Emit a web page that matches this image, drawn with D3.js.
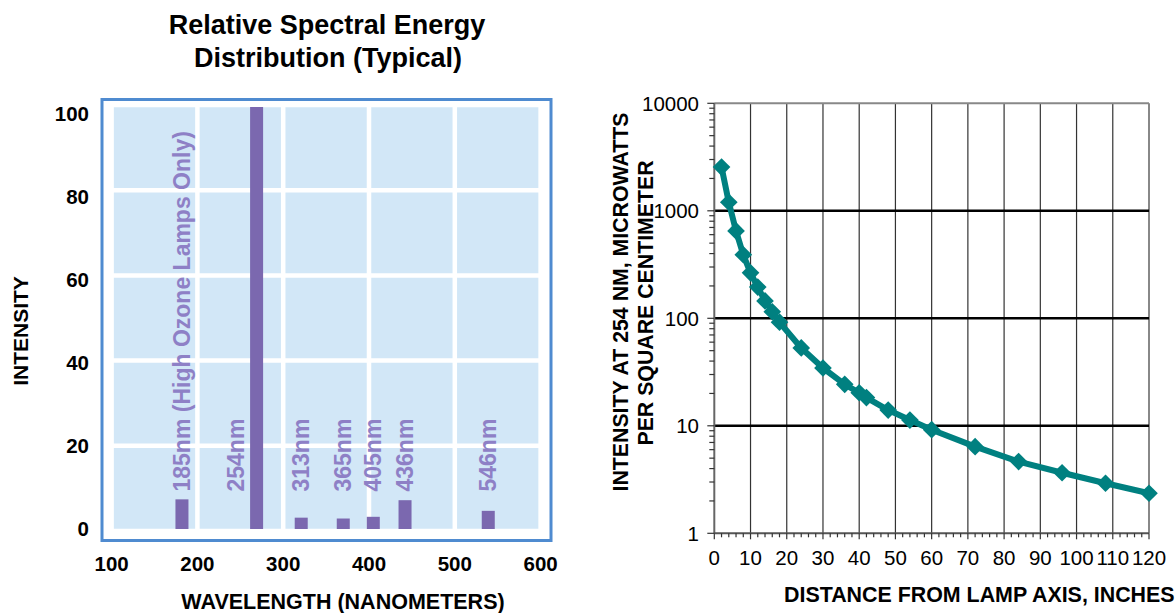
<!DOCTYPE html>
<html>
<head>
<meta charset="utf-8">
<script src="https://cdn.jsdelivr.net/npm/d3@7"></script>
<style>
  body { margin: 0; background: #fff; }
  text { font-family: Arial, "Liberation Sans", sans-serif; }
</style>
</head>
<body>
<svg id="chart" width="1176" height="613"></svg>
<script>
// Left: relative spectral energy (mercury lines)
const lineLabels = ['185nm (High Ozone Lamps Only)', '254nm', '313nm', '365nm', '405nm', '436nm', '546nm'];
const plotNm = [182, 269, 321, 370, 405, 442, 539];     // where each bar sits on the axis
const labelNm = [182, 245, 321, 370, 405, 442, 539];    // where each label sits
const relIntensity = [7.9, 100, 3.6, 3.4, 3.8, 7.7, 5.2];
const wlTicks = [100, 200, 300, 400, 500, 600];
const relTicks = [0, 20, 40, 60, 80, 100];

// Right: intensity vs distance
const distIn = [2, 4, 6, 8, 10, 12, 14, 16, 18, 24, 30, 36, 40, 42, 48, 54, 60, 72, 84, 96, 108, 120];
const uwPerCm2 = [2550, 1200, 650, 390, 265, 195, 145, 115, 92, 53, 34.5, 24.3, 20.3, 18.3, 14, 11.3, 9.2, 6.4, 4.65, 3.66, 2.92, 2.36];
const distTicks = [0, 10, 20, 30, 40, 50, 60, 70, 80, 90, 100, 110, 120];
const decadeTicks = [1, 10, 100, 1000, 10000];

const svg = d3.select('#chart');

// ---------- left chart ----------
const x1 = d3.scaleLinear().domain([100, 600]).range([111.6, 540.6]);
const y1 = d3.scaleLinear().domain([0, 100]).range([531, 105]);
const y1Label = d3.scaleLinear().domain([0, 100]).range([529, 114]);

const left = svg.append('g');

left.append('text').attr('x', 327).attr('y', 34).attr('text-anchor', 'middle')
  .attr('font-size', 27).attr('font-weight', 'bold').text('Relative Spectral Energy');
left.append('text').attr('x', 328).attr('y', 66.5).attr('text-anchor', 'middle')
  .attr('font-size', 27).attr('font-weight', 'bold').text('Distribution (Typical)');

// frame
left.append('rect')
  .attr('x', 102).attr('y', 99.5).attr('width', 449).attr('height', 441)
  .attr('fill', '#fff').attr('stroke', '#4F8BD0').attr('stroke-width', 3);

left.append('rect')
  .attr('x', x1(100)).attr('y', y1(100))
  .attr('width', x1(600) - x1(100)).attr('height', y1(0) - y1(100))
  .attr('fill', '#D2E7F7');

// white grid
left.append('g').selectAll('line').data(wlTicks).join('line')
  .attr('x1', d => x1(d)).attr('x2', d => x1(d))
  .attr('y1', y1(0)).attr('y2', y1(100))
  .attr('stroke', '#fff').attr('stroke-width', 4.5);
left.append('g').selectAll('line').data(relTicks).join('line')
  .attr('x1', x1(100)).attr('x2', x1(600))
  .attr('y1', d => y1(d)).attr('y2', d => y1(d))
  .attr('stroke', '#fff').attr('stroke-width', 4.5);

// bars
left.append('g').selectAll('rect').data(relIntensity).join('rect')
  .attr('x', (d, i) => x1(plotNm[i]) - 6.5)
  .attr('width', 13)
  .attr('y', d => y1(d) + 2)
  .attr('height', d => y1(0) - y1(d) - 4)
  .attr('fill', '#7B68AF');

// line labels
left.append('g').selectAll('text').data(lineLabels).join('text')
  .attr('transform', (d, i) => `translate(${x1(labelNm[i])},491.5) rotate(-90)`)
  .attr('dy', '0.35em')
  .attr('font-size', 23)
  .attr('font-weight', 'bold')
  .attr('fill', '#8E80C6')
  .text(d => d);

// tick labels
left.append('g').selectAll('text').data(relTicks).join('text')
  .attr('x', 89).attr('y', d => y1Label(d)).attr('dy', '0.36em')
  .attr('text-anchor', 'end').attr('font-size', 20.5).attr('font-weight', 'bold')
  .text(d => d);
left.append('g').selectAll('text').data(wlTicks).join('text')
  .attr('x', d => x1(d)).attr('y', 571)
  .attr('text-anchor', 'middle').attr('font-size', 20.5).attr('font-weight', 'bold')
  .text(d => d);

left.append('text').attr('x', 343).attr('y', 609)
  .attr('text-anchor', 'middle').attr('font-size', 21.5).attr('font-weight', 'bold')
  .text('WAVELENGTH (NANOMETERS)');
left.append('text').attr('transform', 'translate(20.5,331) rotate(-90)')
  .attr('dy', '0.36em').attr('text-anchor', 'middle')
  .attr('font-size', 21).attr('font-weight', 'bold').text('INTENSITY');

// ---------- right chart ----------
const x2 = d3.scaleLinear().domain([0, 120]).range([714.3, 1149]);
const y2 = d3.scaleLog().domain([1, 10000]).range([533.3, 103.3]);

const right = svg.append('g');

// vertical grid
right.append('g').selectAll('line').data(distTicks.slice(1, -1)).join('line')
  .attr('x1', d => x2(d)).attr('x2', d => x2(d))
  .attr('y1', y2(1)).attr('y2', y2(10000))
  .attr('stroke', '#333').attr('stroke-width', 1.2);

// frame top / right
right.append('line').attr('x1', x2(0)).attr('x2', x2(120))
  .attr('y1', y2(10000)).attr('y2', y2(10000))
  .attr('stroke', '#888').attr('stroke-width', 2);
right.append('line').attr('x1', x2(120)).attr('x2', x2(120))
  .attr('y1', y2(1)).attr('y2', y2(10000))
  .attr('stroke', '#888').attr('stroke-width', 2);

// horizontal decade grid
right.append('g').selectAll('line').data(decadeTicks.slice(1, -1)).join('line')
  .attr('x1', x2(0)).attr('x2', x2(120))
  .attr('y1', d => y2(d)).attr('y2', d => y2(d))
  .attr('stroke', '#000').attr('stroke-width', 2.5);

// axes
right.append('line').attr('x1', x2(0)).attr('x2', x2(0))
  .attr('y1', y2(1)).attr('y2', y2(10000))
  .attr('stroke', '#666').attr('stroke-width', 2);
right.append('line').attr('x1', x2(0)).attr('x2', x2(120))
  .attr('y1', y2(1)).attr('y2', y2(1))
  .attr('stroke', '#555').attr('stroke-width', 2);

right.append('g').selectAll('line').data(y2.ticks()).join('line')
  .attr('x1', d => x2(0) - (decadeTicks.includes(d) ? 7 : 5)).attr('x2', x2(0))
  .attr('y1', d => y2(d)).attr('y2', d => y2(d))
  .attr('stroke', '#333').attr('stroke-width', 1.2);
right.append('g').selectAll('line').data(d3.range(0, 121, 2)).join('line')
  .attr('x1', d => x2(d)).attr('x2', d => x2(d))
  .attr('y1', y2(1)).attr('y2', d => y2(1) + (d % 10 === 0 ? 6 : 4))
  .attr('stroke', '#333').attr('stroke-width', 1.2);

// tick labels
right.append('g').selectAll('text').data(decadeTicks).join('text')
  .attr('x', 699).attr('y', d => y2(d)).attr('dy', '0.36em')
  .attr('text-anchor', 'end').attr('font-size', 20.5)
  .text(d => d);
right.append('g').selectAll('text').data(distTicks).join('text')
  .attr('x', d => x2(d)).attr('y', 565)
  .attr('text-anchor', 'middle').attr('font-size', 20.5)
  .text(d => d);

// curve
const pts = distIn.map((d, i) => [d, uwPerCm2[i]]);
right.append('path').datum(pts)
  .attr('d', d3.line().x(d => x2(d[0])).y(d => y2(d[1])))
  .attr('fill', 'none').attr('stroke', '#008080').attr('stroke-width', 6)
  .attr('stroke-linejoin', 'round');
right.append('g').selectAll('path').data(pts).join('path')
  .attr('d', d3.symbol(d3.symbolSquare, 156))
  .attr('transform', d => `translate(${x2(d[0])},${y2(d[1])}) rotate(45)`)
  .attr('fill', '#008080');

// axis titles
right.append('text').attr('x', 784).attr('y', 601.5)
  .attr('font-size', 21.4).attr('font-weight', 'bold')
  .text('DISTANCE FROM LAMP AXIS, INCHES');
right.append('text').attr('transform', 'translate(620,302) rotate(-90)')
  .attr('dy', '0.36em').attr('text-anchor', 'middle')
  .attr('font-size', 21.3).attr('font-weight', 'bold')
  .text('INTENSITY AT 254 NM, MICROWATTS');
right.append('text').attr('transform', 'translate(645,303) rotate(-90)')
  .attr('dy', '0.36em').attr('text-anchor', 'middle')
  .attr('font-size', 21.3).attr('font-weight', 'bold')
  .text('PER SQUARE CENTIMETER');
</script>
</body>
</html>
